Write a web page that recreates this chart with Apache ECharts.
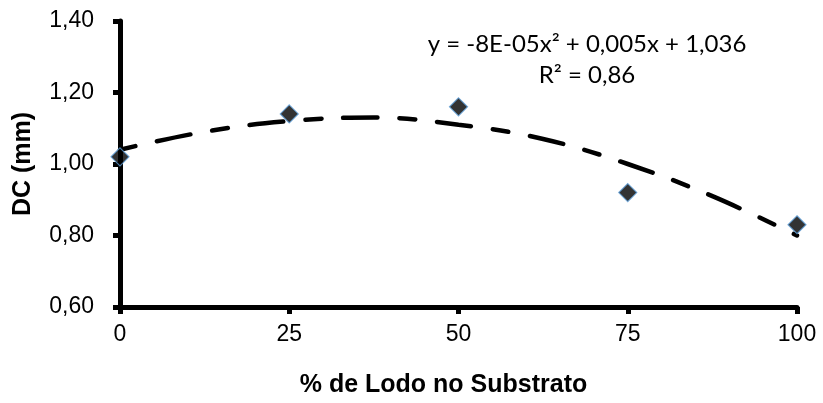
<!DOCTYPE html>
<html>
<head>
<meta charset="utf-8">
<script src="https://cdn.jsdelivr.net/npm/echarts@6/dist/echarts.min.js"></script>
<style>
  html, body { margin: 0; padding: 0; background: #fff; }
  #main { width: 823px; height: 403px; }
</style>
</head>
<body>
<div id="main"></div>
<script>
// measured points (% lodo, DC mm)
var lodoPct = [0, 25, 50, 75, 100];
var dcValues = [1.02, 1.14, 1.16, 0.92, 0.83];

// trend line
var trendX = [0, 12.5, 25, 37.5, 50, 62.5, 75, 87.5, 100];
var trendY = [1.04, 1.09, 1.12, 1.13, 1.11, 1.07, 1.00, 0.91, 0.80];

var xTicks = [0, 25, 50, 75, 100];
var equationText = ['y = -8E-05x\u00b2 + 0,005x + 1,036', 'R\u00b2 = 0,86'];

var chartDom = document.getElementById('main');
var myChart = echarts.init(chartDom);
var option;

var pointData = lodoPct.map(function (x, i) { return [x, dcValues[i]]; });
var trendData = trendX.map(function (x, i) { return [x, trendY[i]]; });

option = {
    animation: false,
    backgroundColor: '#ffffff',
    grid: {
        left: 120,
        right: 26,
        top: 21,
        bottom: 96
    },
    xAxis: {
        type: 'value',
        min: xTicks[0],
        max: xTicks[xTicks.length - 1],
        interval: 25,
        name: '% de Lodo no Substrato',
        nameLocation: 'middle',
        nameGap: 66,
        nameTextStyle: {
            fontFamily: 'Liberation Sans',
            fontSize: 25,
            fontWeight: 'bold',
            color: '#000',
            padding: [0, 30, 0, 0]
        },
        axisLine: { show: true, lineStyle: { color: '#000', width: 5 } },
        axisTick: { show: true, length: 7, lineStyle: { color: '#000', width: 5 } },
        splitLine: { show: false },
        axisLabel: {
            fontFamily: 'Liberation Sans',
            fontSize: 23,
            color: '#000',
            margin: 16
        }
    },
    yAxis: {
        type: 'value',
        min: 0.6,
        max: 1.4,
        interval: 0.2,
        name: 'DC (mm)',
        nameLocation: 'middle',
        nameGap: 84,
        nameTextStyle: {
            fontFamily: 'Liberation Sans',
            fontSize: 25,
            fontWeight: 'bold',
            color: '#000'
        },
        axisLine: { show: true, lineStyle: { color: '#000', width: 5 } },
        axisTick: { show: true, length: 7, lineStyle: { color: '#000', width: 5 } },
        splitLine: { show: false },
        axisLabel: {
            fontFamily: 'Liberation Sans',
            fontSize: 23,
            color: '#000',
            margin: 26,
            formatter: function (v) {
                return v.toFixed(2).replace('.', ',');
            }
        }
    },
    graphic: [
        {
            type: 'text',
            x: 587,
            y: 29,
            z: 100,
            style: {
                text: equationText.join('\n'),
                align: 'center',
                verticalAlign: 'top',
                fontFamily: 'Lato',
                fontSize: 24,
                lineHeight: 31,
                fill: '#000'
            }
        }
    ],
    series: [
        {
            type: 'line',
            data: trendData,
            smooth: 0.4,
            showSymbol: false,
            symbol: 'none',
            lineStyle: {
                color: '#000',
                width: 4.5,
                type: [16, 22, 34, 22],
                cap: 'round'
            },
            z: 2
        },
        {
            type: 'scatter',
            data: pointData,
            symbol: 'diamond',
            symbolSize: 18,
            itemStyle: {
                color: '#000',
                borderColor: '#5B9BD5',
                borderWidth: 1.2
            },
            z: 3
        }
    ]
};

option && myChart.setOption(option);
</script>
</body>
</html>
